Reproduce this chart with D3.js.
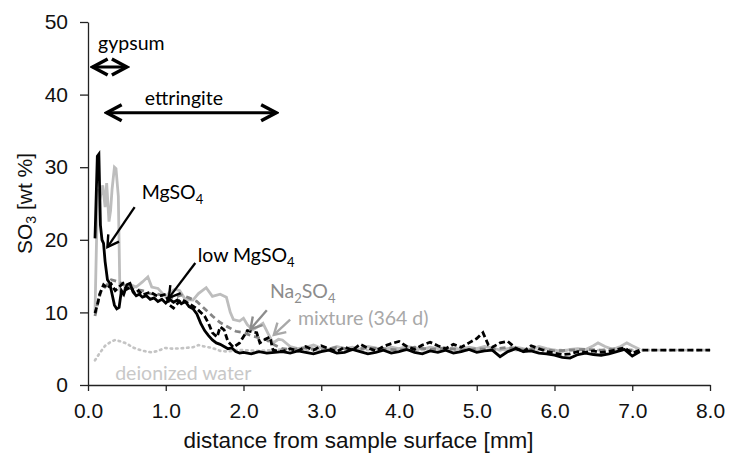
<!DOCTYPE html>
<html>
<head>
<meta charset="utf-8">
<script src="https://cdn.jsdelivr.net/npm/d3@7"></script>
<style>
  body { margin: 0; background: #fff; }
</style>
</head>
<body>
<script>
var width = 730;
var height = 458;
var margin = {left: 88, right: 20, top: 22, bottom: 73};
var axisFont = "'Liberation Sans', Arial, sans-serif";
var annFont = "Lato, 'Open Sans', sans-serif";

// ---------- data ----------
var xTicks = [0, 1, 2, 3, 4, 5, 6, 7, 8];
var yTicks = [0, 10, 20, 30, 40, 50];

var mgX = [0.09,0.12,0.14,0.16,0.18,0.20,0.22,0.25,0.28,0.31,0.34,0.37,0.40,0.43,0.46,0.50,0.54,0.58,0.62,0.66,0.70,0.75,0.80,0.85,0.90,0.95,1.00,1.05,1.10,1.15,1.20,1.25,1.30,1.35,1.40,1.45,1.50,1.55,1.60,1.65,1.70,1.75,1.80,1.85,1.90,1.95,2.0,2.1,2.2,2.3,2.4,
  2.5,2.6,2.7,2.8,2.9,3.0,3.1,3.2,3.3,3.4,3.5,3.6,3.7,3.8,3.9,4.0,4.1,4.2,4.3,4.4,4.5,4.6,4.7,4.8,4.9,5.0,5.1,5.2,5.3,5.4,5.5,5.6,5.7,5.8,5.9,6.0,6.1,6.2,6.3,6.4,6.5,6.6,6.7,6.8,6.9,7.0,7.1];
var mgY = [20.2,31.5,31.8,22,20,19.5,17,14.5,14,12.5,11,10.5,10.7,13,12.5,13.8,14,12.8,12.3,12.5,12.1,12.3,11.8,12,11.5,11.8,11.3,11.8,11.4,11.7,11.2,11.5,10.8,10.5,9.8,8.5,7.5,6.8,6.2,5.8,5.6,5.3,5.0,5.1,4.6,4.4,4.5,4.3,4.6,4.4,4.5,
  4.6,4.4,4.7,4.5,4.3,4.6,4.8,4.4,4.5,4.9,4.6,4.3,4.5,4.8,4.4,4.6,4.9,4.5,4.3,4.7,4.5,4.8,4.4,4.6,4.9,4.5,4.7,4.8,3.9,4.6,5.0,4.6,4.7,4.4,4.3,4.1,3.8,3.7,4.2,4.4,4.2,4.1,4.3,4.6,4.9,4.0,4.6];

var lowX = [0.09,0.12,0.15,0.20,0.25,0.30,0.35,0.40,0.45,0.50,0.55,0.60,0.65,0.70,0.80,0.90,1.00,1.05,1.10,1.20,1.30,1.40,1.50,1.55,1.60,1.66,1.70,1.75,1.80,1.87,1.95,2.05,2.12,2.17,2.21,2.28,2.34,2.38,
  2.5,2.6,2.7,2.8,2.9,3.0,3.1,3.2,3.3,3.4,3.5,3.6,3.7,3.8,3.9,4.0,4.1,4.2,4.3,4.4,4.5,4.6,4.7,4.8,4.9,5.0,5.08,5.15,5.2,5.3,5.4,5.5,5.6,5.7,5.8,5.9,6.0,6.1,6.2,6.3,6.4,6.5,6.6,6.7,6.8,6.9,7.0,7.1,7.3,7.5,7.7,8.0];
var lowY = [9.9,11,12.5,13.8,13.3,13.9,13,13.5,14,13.2,13.5,12.6,13,12.4,12.8,12.2,12.5,11,10.6,11.8,11.2,10.5,9.5,8.5,7.2,6.6,8,7.6,6,5.2,5.8,7.5,7.3,7.2,5.8,6.3,6.6,4.8,
  4.6,5.0,4.7,5.3,4.8,5.4,5.0,4.6,5.2,4.8,5.6,5.1,4.7,5.3,5.7,6.0,5.3,4.9,5.5,5.9,5.4,5.0,5.6,5.2,5.8,6.4,7.2,5.5,5.2,5.8,6.0,5.1,4.6,5.4,5.0,4.6,4.4,4.2,4.3,4.6,4.5,4.7,4.5,4.6,4.9,5.1,4.4,4.8,4.8,4.8,4.8,4.8];

var naX = [0.09,0.13,0.17,0.22,0.30,0.40,0.50,0.60,0.70,0.80,0.90,1.00,1.10,1.20,1.30,1.40,1.50,1.60,1.70,1.80,1.90,2.00,2.10,2.20,2.30,2.40,2.50,
  2.6,2.8,3.0,3.2,3.4,3.6,3.8,4.0,4.2,4.4,4.6,4.8,5.0,5.2,5.4,5.6,5.8,6.0,6.2,6.4,6.6,6.8,7.0];
var naY = [9.5,11.5,13,13.5,14.5,14.2,13.5,13.2,13,12.6,12.5,12.2,12,12.4,12,11.5,10.5,9.5,8.6,8,7.4,7.2,6.8,6.5,6.2,5.5,5.0,
  4.9,5.1,4.8,5.2,4.9,5.1,5.0,4.8,5.2,4.9,5.1,4.8,5.0,4.9,5.2,4.8,5.0,4.7,4.8,4.9,4.8,5.0,4.8];

var mixX = [0.09,0.11,0.13,0.16,0.19,0.22,0.24,0.27,0.29,0.31,0.34,0.36,0.39,0.41,0.44,0.48,0.55,0.62,0.70,0.77,0.82,0.90,1.00,1.05,1.12,1.18,1.25,1.35,1.42,1.52,1.60,1.70,1.78,1.83,1.87,1.95,2.00,2.05,2.12,2.18,2.25,2.32,2.38,2.45,2.50,
  2.6,2.7,2.8,2.9,3.0,3.1,3.2,3.3,3.4,3.5,3.6,3.7,3.8,3.9,4.0,4.1,4.2,4.3,4.4,4.5,4.6,4.7,4.8,4.9,5.0,5.1,5.2,5.3,5.4,5.5,5.6,5.7,5.8,5.9,6.0,6.1,6.2,6.3,6.4,6.5,6.56,6.65,6.75,6.85,6.93,7.0,7.1];
var mixY = [10,20,27,26,27.5,24.5,27.8,22.5,24,27,30,29.8,26,13,12.5,13.5,13.8,13.5,14.2,14.9,13.5,13.3,12.1,12.8,13.2,13,11.8,11.7,12.6,13.4,12.2,12.5,12.1,10,9,8.8,9.2,8.3,7.6,8,8.5,7,5.8,6.3,6.2,
  5.3,5.0,5.2,5.5,5.1,4.9,5.3,5.0,5.2,4.9,5.3,5.1,4.8,5.2,5.0,5.3,5.1,4.9,5.2,5.0,4.8,5.1,4.9,5.2,5.0,5.3,5.1,4.8,5.0,5.2,5.0,4.9,5.3,5.0,4.8,4.6,4.9,5.0,4.9,5.4,5.8,5.3,4.9,5.3,5.8,5.4,4.9];

var diX = [0.09,0.15,0.22,0.30,0.35,0.42,0.50,0.57,0.65,0.75,0.82,0.90,0.99,1.10,1.25,1.35,1.42,1.50,1.60,1.70,1.80,1.90,2.00,2.20,2.50,3.0,4.0,5.0,6.0,7.0,8.0];
var diY = [3.4,4.4,5.4,6.0,6.2,6.0,5.7,5.2,4.9,4.6,4.5,4.7,5.1,5.0,5.1,5.2,5.5,5.3,5.1,4.7,4.6,4.8,4.8,4.7,4.9,4.8,4.8,4.8,4.8,4.8,4.8];

// ---------- svg ----------
var svg = d3.select("body").append("svg")
    .attr("width", width)
    .attr("height", height);

var x = d3.scaleLinear().domain([0, 8]).range([margin.left, width - margin.right]);
var y = d3.scaleLinear().domain([0, 50]).range([height - margin.bottom, margin.top]);

// arrow heads (open chevrons)
var defs = svg.append("defs");
function chevron(id, color, len, half, sw) {
  defs.append("marker")
      .attr("id", id)
      .attr("viewBox", (-len - 3) + " " + (-half - 3) + " " + (len + 6) + " " + (2 * half + 6))
      .attr("refX", 0).attr("refY", 0)
      .attr("markerUnits", "userSpaceOnUse")
      .attr("markerWidth", len + 6).attr("markerHeight", 2 * half + 6)
      .attr("orient", "auto-start-reverse")
    .append("path")
      .attr("d", "M" + (-len) + "," + (-half) + "L0,0L" + (-len) + "," + half)
      .attr("fill", "none")
      .attr("stroke", color)
      .attr("stroke-width", sw)
      .attr("stroke-linejoin", "miter");
}
chevron("arrBig", "#000", 15, 8, 3.4);
chevron("arrBlack", "#000", 11, 6.5, 2.4);
chevron("arrGray", "#8c8c8c", 11, 6.5, 2.4);
chevron("arrLight", "#a8a8a8", 11, 6.5, 2.4);

// ---------- axes ----------
function styleAxis(g) {
  g.select(".domain").attr("stroke", "#222").attr("stroke-width", 1.3);
  g.selectAll(".tick line").attr("stroke", "#222").attr("stroke-width", 1.3);
  g.selectAll("text").attr("font-family", axisFont).attr("font-size", 21).attr("fill", "#111");
}

svg.append("g")
    .attr("transform", "translate(0," + y(0) + ")")
    .call(d3.axisBottom(x).tickValues(xTicks).tickSize(6).tickSizeOuter(0).tickPadding(12)
      .tickFormat(d3.format(".1f")))
    .call(styleAxis);

svg.append("g")
    .attr("transform", "translate(" + x(0) + ",0)")
    .call(d3.axisLeft(y).tickValues(yTicks).tickSize(8).tickSizeOuter(0).tickPadding(12))
    .call(styleAxis);

svg.append("text")
    .attr("x", x(3.48))
    .attr("y", height - 10)
    .attr("text-anchor", "middle")
    .attr("font-family", axisFont)
    .attr("font-size", 22.5)
    .attr("fill", "#111")
    .text("distance from sample surface [mm]");

var yl = svg.append("text")
    .attr("transform", "translate(32," + y(25) + ") rotate(-90)")
    .attr("text-anchor", "middle")
    .attr("font-family", axisFont)
    .attr("font-size", 21)
    .attr("fill", "#111");
yl.append("tspan").text("SO");
yl.append("tspan").attr("font-size", 14).attr("dy", 4).text("3");
yl.append("tspan").attr("dy", -4).text(" [wt %]");

// ---------- lines ----------
var line = d3.line().x(function(d) { return x(d[0]); }).y(function(d) { return y(d[1]); });
function zip(xs, ys) { return xs.map(function(v, i) { return [v, ys[i]]; }); }

svg.append("path").datum(zip(diX, diY)).attr("d", line)
    .attr("fill", "none").attr("stroke", "#c4c4c4").attr("stroke-width", 2.6)
    .attr("stroke-dasharray", "1.5,4").attr("stroke-linecap", "round");

svg.append("path").datum(zip(mixX, mixY)).attr("d", line)
    .attr("fill", "none").attr("stroke", "#bdbdbd").attr("stroke-width", 2.8);

svg.append("path").datum(zip(naX, naY)).attr("d", line)
    .attr("fill", "none").attr("stroke", "#858585").attr("stroke-width", 2.8)
    .attr("stroke-dasharray", "6,4");

svg.append("path").datum(zip(lowX, lowY)).attr("d", line)
    .attr("fill", "none").attr("stroke", "#000").attr("stroke-width", 2.8)
    .attr("stroke-dasharray", "6,3");

svg.append("path").datum(zip(mgX, mgY)).attr("d", line)
    .attr("fill", "none").attr("stroke", "#000").attr("stroke-width", 2.8);

// ---------- annotations ----------
function arrow(x1, y1, x2, y2, marker, color, w, both) {
  svg.append("line")
      .attr("x1", x(x1)).attr("y1", y(y1))
      .attr("x2", x(x2)).attr("y2", y(y2))
      .attr("stroke", color).attr("stroke-width", w)
      .attr("marker-end", "url(#" + marker + ")")
      .attr("marker-start", both ? "url(#" + marker + ")" : null);
}

function label(xv, yv, parts, color) {
  var t = svg.append("text")
      .attr("x", x(xv)).attr("y", y(yv))
      .attr("font-family", annFont)
      .attr("font-size", 19.5)
      .attr("fill", color);
  parts.forEach(function(p) {
    if (p.sub) t.append("tspan").attr("font-size", 13).attr("dy", 5).text(p.sub);
    else t.append("tspan").attr("dy", p.up ? -5 : null).text(p.t);
  });
}

arrow(0.06, 43.8, 0.50, 43.8, "arrBig", "#000", 3, true);
label(0.13, 46.2, [{t: "gypsum"}], "#000");

arrow(0.24, 37.5, 2.42, 37.5, "arrBig", "#000", 3.2, true);
label(0.73, 38.5, [{t: "ettringite"}], "#000");

arrow(0.60, 24.5, 0.25, 19.0, "arrBlack", "#000", 2.3, false);
label(0.69, 25.6, [{t: "MgSO"}, {sub: "4"}], "#000");

arrow(1.38, 16.8, 1.04, 12.0, "arrBlack", "#000", 2.3, false);
label(1.41, 17.0, [{t: "low MgSO"}, {sub: "4"}], "#000");

arrow(2.30, 10.3, 2.09, 7.7, "arrGray", "#8c8c8c", 2.3, false);
label(2.34, 12.0, [{t: "Na"}, {sub: "2"}, {t: "SO", up: true}, {sub: "4"}], "#8c8c8c");

arrow(2.60, 9.0, 2.39, 6.9, "arrLight", "#a8a8a8", 2.3, false);
label(2.70, 8.2, [{t: "mixture (364 d)"}], "#a8a8a8");

label(0.35, 0.7, [{t: "deionized water"}], "#c8c8c8");
</script>
</body>
</html>
